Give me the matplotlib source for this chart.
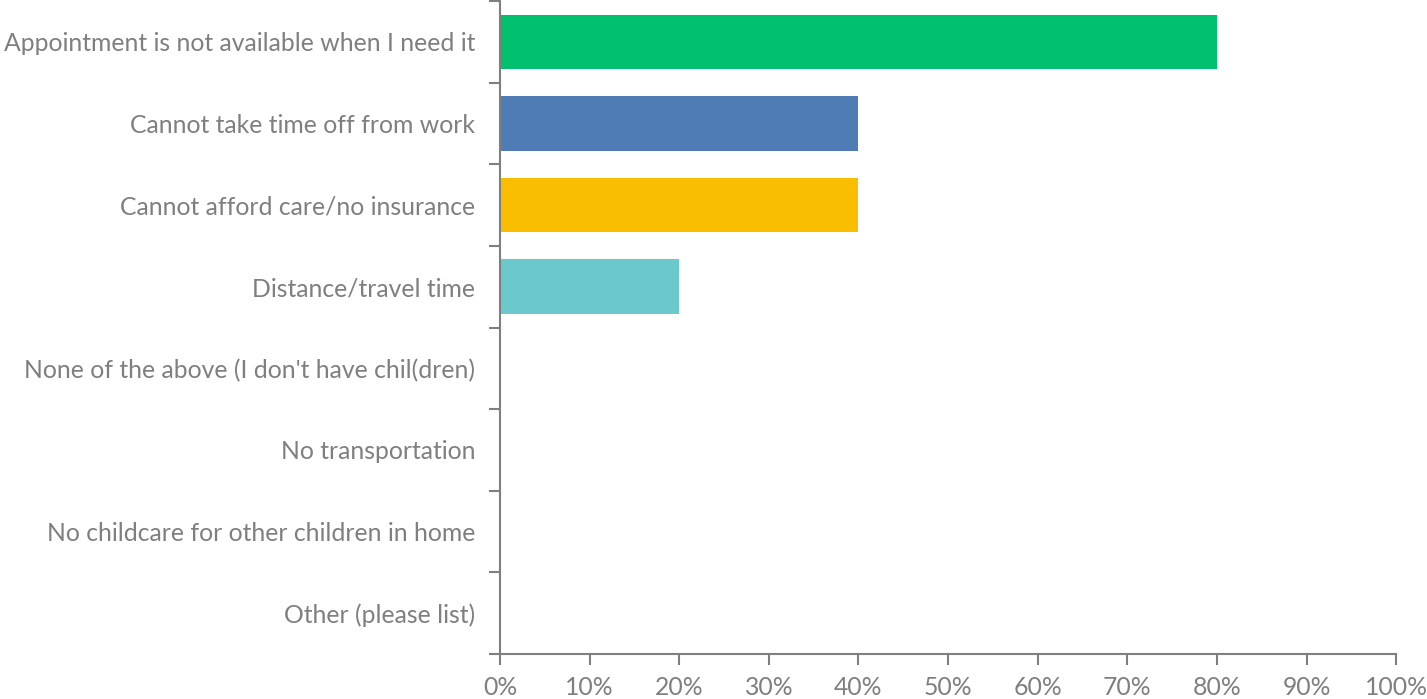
import matplotlib
matplotlib.use("Agg")
import matplotlib.pyplot as plt
from matplotlib.ticker import FixedLocator, PercentFormatter

categories = [
    "Appointment is not available when I need it",
    "Cannot take time off from work",
    "Cannot afford care/no insurance",
    "Distance/travel time",
    "None of the above (I don't have chil(dren)",
    "No transportation",
    "No childcare for other children in home",
    "Other (please list)",
]
values = [80, 40, 40, 20, 0, 0, 0, 0]
colors = ["#00BF6F", "#507CB6", "#F9BE00", "#6BC8CD",
          "#00BF6F", "#507CB6", "#F9BE00", "#6BC8CD"]
xticks = list(range(0, 101, 10))

gray = "#7F7F7F"
plt.rcParams["font.family"] = ["Lato", "DejaVu Sans"]

fig = plt.figure(figsize=(14.27, 6.99), dpi=100)
ax = fig.add_axes([0.3504, 0.0644, 0.628, 0.934])

pos = list(range(len(categories)))
ax.barh(pos, values, height=0.67, color=colors)
ax.set_ylim(len(categories) - 0.5, -0.5)
ax.set_xlim(0, 100)

# y ticks sit on band boundaries, labels centred on bars
ax.yaxis.set_major_locator(FixedLocator([p - 0.5 for p in range(len(categories) + 1)]))
ax.yaxis.set_major_formatter(plt.NullFormatter())
ax.yaxis.set_minor_locator(FixedLocator(pos))
ax.set_yticklabels(categories, minor=True)
ax.tick_params(axis="y", which="minor", length=0, pad=18, labelsize=17.8, labelcolor=gray)
ax.tick_params(axis="y", which="major", length=8, width=1.5, color=gray)

ax.set_xticks(xticks)
ax.xaxis.set_major_formatter(PercentFormatter(decimals=0))
ax.tick_params(axis="x", length=8, width=1.5, color=gray, labelsize=17.8,
               labelcolor=gray, pad=8)

for s in ["top", "right"]:
    ax.spines[s].set_visible(False)
for s in ["left", "bottom"]:
    ax.spines[s].set_color(gray)
    ax.spines[s].set_linewidth(1.5)

fig.savefig("out.png", dpi=100)
